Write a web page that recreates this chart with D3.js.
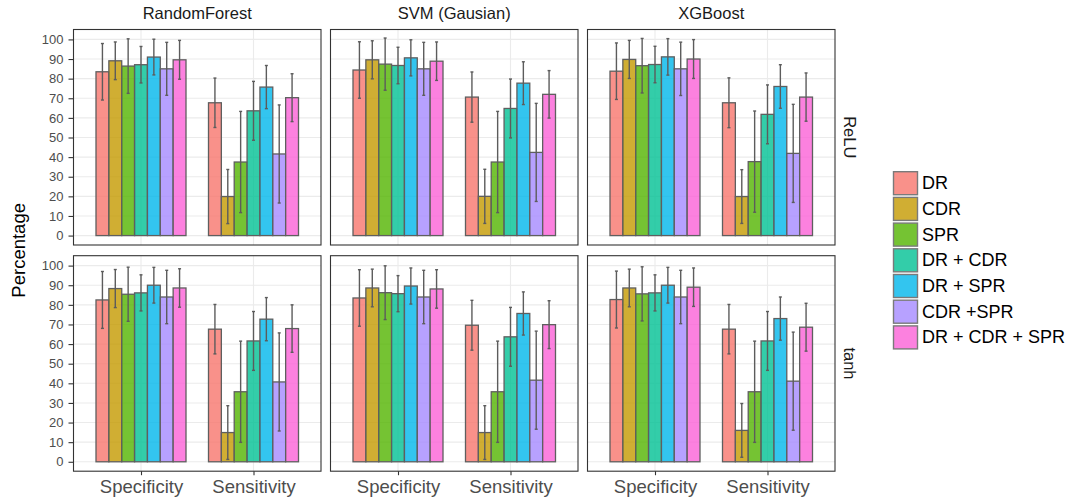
<!DOCTYPE html>
<html>
<head>
<meta charset="utf-8">
<script src="https://cdn.jsdelivr.net/npm/d3@7"></script>
<style>
  html, body { margin: 0; padding: 0; background: #fff; }
  svg { display: block; font-family: "Liberation Sans", Arial, Helvetica, sans-serif; }
</style>
</head>
<body>
<svg id="chart" width="1070" height="504"></svg>
<script>
// Facets and categories
const classifiers = ["RandomForest", "SVM (Gausian)", "XGBoost"];
const activations = ["ReLU", "tanh"];
const metrics = ["Specificity", "Sensitivity"];
const featureSets = ["DR", "CDR", "SPR", "DR + CDR", "DR + SPR", "CDR +SPR", "DR + CDR + SPR"];
const featureColors = ["#F8766D", "#C49A00", "#53B400", "#00C094", "#00B6EB", "#A58AFF", "#FB61D7"];
const yTicks = [0, 10, 20, 30, 40, 50, 60, 70, 80, 90, 100];

// Mean percentage and error half-width, one array per classifier / activation / metric
const rfReluSpec = [83.5, 89.1, 86.4, 87.1, 91.0, 85.0, 89.6];
const rfReluSpecErr = [14.4, 9.6, 13.9, 9.3, 9.1, 13.5, 9.9];
const rfReluSens = [67.7, 19.9, 37.5, 63.6, 75.7, 41.6, 70.3];
const rfReluSensErr = [12.6, 13.8, 25.8, 15.0, 11.0, 25.0, 12.2];

const svmReluSpec = [84.4, 89.6, 87.4, 86.7, 90.6, 85.0, 88.9];
const svmReluSpecErr = [14.4, 9.7, 13.3, 9.3, 9.2, 13.5, 9.8];
const svmReluSens = [70.6, 20.0, 37.5, 64.8, 77.7, 42.4, 72.0];
const svmReluSensErr = [12.8, 13.8, 25.8, 15.0, 10.9, 25.0, 12.1];

const xgbReluSpec = [83.8, 89.8, 86.6, 87.2, 91.1, 85.0, 90.0];
const xgbReluSpecErr = [14.4, 9.7, 13.9, 9.3, 9.3, 13.6, 9.9];
const xgbReluSens = [67.7, 19.9, 37.7, 61.8, 76.0, 41.9, 70.6];
const xgbReluSensErr = [12.7, 13.7, 25.8, 15.0, 11.1, 25.0, 12.3];

const rfTanhSpec = [82.5, 88.3, 85.4, 86.1, 90.0, 84.0, 88.6];
const rfTanhSpecErr = [14.5, 9.7, 13.8, 9.2, 9.1, 13.6, 9.8];
const rfTanhSens = [67.6, 14.9, 35.7, 61.6, 72.7, 40.7, 67.9];
const rfTanhSensErr = [12.6, 13.7, 25.8, 15.0, 11.0, 25.0, 12.1];

const svmTanhSpec = [83.5, 88.6, 86.2, 85.7, 89.6, 84.0, 88.1];
const svmTanhSpecErr = [14.4, 9.6, 13.7, 9.2, 9.2, 13.6, 9.8];
const svmTanhSens = [69.6, 14.9, 35.7, 63.7, 75.6, 41.6, 69.9];
const svmTanhSensErr = [12.7, 13.7, 25.8, 15.0, 11.0, 25.0, 12.2];

const xgbTanhSpec = [82.7, 88.6, 85.6, 86.1, 90.0, 84.0, 89.0];
const xgbTanhSpecErr = [14.5, 9.6, 13.8, 9.2, 9.1, 13.6, 9.8];
const xgbTanhSens = [67.6, 16.0, 35.7, 61.6, 73.0, 41.1, 68.6];
const xgbTanhSensErr = [12.6, 13.7, 25.8, 15.0, 11.0, 25.0, 12.2];

// Grid of panels: rows = activations, columns = classifiers
const panelData = [
  [ [[rfReluSpec, rfReluSpecErr], [rfReluSens, rfReluSensErr]],
    [[svmReluSpec, svmReluSpecErr], [svmReluSens, svmReluSensErr]],
    [[xgbReluSpec, xgbReluSpecErr], [xgbReluSens, xgbReluSensErr]] ],
  [ [[rfTanhSpec, rfTanhSpecErr], [rfTanhSens, rfTanhSensErr]],
    [[svmTanhSpec, svmTanhSpecErr], [svmTanhSens, svmTanhSensErr]],
    [[xgbTanhSpec, xgbTanhSpecErr], [xgbTanhSens, xgbTanhSensErr]] ]
];

// Layout
const svg = d3.select("#chart");
const panelLeft0 = 73.5, panelPitchX = 257, panelW = 247.5;
const panelTops = [29.5, 255.7], panelH = 215.5;
const yDomain = [-4.8, 105.05];
const outline = "#5f5f5f";
const errColor = "#5c5c5c";

const color = d3.scaleOrdinal().domain(featureSets).range(featureColors);

activations.forEach((act, r) => {
  const top = panelTops[r];
  const y = d3.scaleLinear().domain(yDomain).range([top + panelH, top]);

  classifiers.forEach((clf, c) => {
    const left = panelLeft0 + c * panelPitchX;
    const x = d3.scalePoint().domain(metrics).range([left, left + panelW]).padding(0.6);
    const step = x.step();
    const inner = d3.scaleBand().domain(featureSets).range([-0.4 * step, 0.4 * step]).padding(0);

    const g = svg.append("g");

    // background and grid
    g.append("rect").attr("x", left).attr("y", top)
      .attr("width", panelW).attr("height", panelH).attr("fill", "#fff");
    g.selectAll(".hgrid").data(yTicks).join("line")
      .attr("x1", left).attr("x2", left + panelW)
      .attr("y1", d => y(d)).attr("y2", d => y(d))
      .attr("stroke", "#ebebeb").attr("stroke-width", 1.1);
    g.selectAll(".vgrid").data(metrics).join("line")
      .attr("x1", d => x(d)).attr("x2", d => x(d))
      .attr("y1", top).attr("y2", top + panelH)
      .attr("stroke", "#ebebeb").attr("stroke-width", 1.1);

    // bars and error bars
    metrics.forEach((m, mi) => {
      const [means, errs] = panelData[r][c][mi];
      const rows = featureSets.map((f, i) => ({ f, v: means[i], e: errs[i] }));
      const cx = x(m);

      g.selectAll(null).data(rows).join("rect")
        .attr("x", d => cx + inner(d.f))
        .attr("width", inner.bandwidth())
        .attr("y", d => y(d.v))
        .attr("height", d => y(0) - y(d.v))
        .attr("fill", d => color(d.f)).attr("fill-opacity", 0.8)
        .attr("stroke", outline).attr("stroke-width", 1.3);

      const eb = g.selectAll(null).data(rows).join("g")
        .attr("transform", d => `translate(${cx + inner(d.f) + inner.bandwidth() / 2},0)`);
      eb.append("line")
        .attr("y1", d => y(d.v - d.e)).attr("y2", d => y(d.v + d.e))
        .attr("stroke", errColor).attr("stroke-width", 1.4);
      eb.append("line")
        .attr("x1", -1.5).attr("x2", 1.5)
        .attr("y1", d => y(d.v + d.e)).attr("y2", d => y(d.v + d.e))
        .attr("stroke", errColor).attr("stroke-width", 1.4);
      eb.append("line")
        .attr("x1", -1.5).attr("x2", 1.5)
        .attr("y1", d => y(d.v - d.e)).attr("y2", d => y(d.v - d.e))
        .attr("stroke", errColor).attr("stroke-width", 1.4);
    });

    // panel border
    g.append("rect").attr("x", left).attr("y", top)
      .attr("width", panelW).attr("height", panelH)
      .attr("fill", "none").attr("stroke", "#333333").attr("stroke-width", 1.1);

    // y axis on first column
    if (c === 0) {
      const ya = svg.append("g").attr("transform", `translate(${left},0)`)
        .call(d3.axisLeft(y).tickValues(yTicks).tickSize(5).tickPadding(5));
      ya.select(".domain").remove();
      ya.selectAll(".tick line").attr("stroke", "#333333").attr("stroke-width", 1.1);
      ya.selectAll(".tick text").attr("fill", "#4d4d4d")
        .style("font-size", "13px").style("font-family", "Liberation Sans, Arial, sans-serif");
    }

    // x axis on bottom row
    if (r === activations.length - 1) {
      const xa = svg.append("g").attr("transform", `translate(0,${top + panelH})`)
        .call(d3.axisBottom(x).tickSize(4).tickPadding(4.5));
      xa.select(".domain").remove();
      xa.selectAll(".tick line").attr("stroke", "#333333").attr("stroke-width", 1.1);
      xa.selectAll(".tick text").attr("fill", "#4d4d4d")
        .style("font-size", "18.5px").style("font-family", "Liberation Sans, Arial, sans-serif");
    }

    // column strip labels
    if (r === 0) {
      svg.append("text")
        .attr("x", left + panelW / 2).attr("y", 19)
        .attr("text-anchor", "middle")
        .attr("fill", "#1a1a1a").style("font-size", "16.5px")
        .text(clf);
    }
  });

  // row strip labels
  const rx = panelLeft0 + 2 * panelPitchX + panelW + 15;
  const ry = top + panelH / 2;
  svg.append("text")
    .attr("transform", `translate(${rx},${ry}) rotate(90)`)
    .attr("text-anchor", "middle").attr("dominant-baseline", "central")
    .attr("fill", "#1a1a1a").style("font-size", "16.5px")
    .text(act);
});

// y-axis title
svg.append("text")
  .attr("transform", `translate(18.5,${(panelTops[0] + panelTops[1] + panelH) / 2}) rotate(-90)`)
  .attr("text-anchor", "middle").attr("dominant-baseline", "central")
  .attr("fill", "#000").style("font-size", "18.5px")
  .text("Percentage");

// legend
const legendX = 893.5, legendY = 171.7, keyW = 24, keyH = 23, keyPitch = 25.7;
const lg = svg.append("g");
const items = lg.selectAll(null).data(featureSets).join("g")
  .attr("transform", (d, i) => `translate(${legendX},${legendY + i * keyPitch})`);
items.append("rect")
  .attr("width", keyW).attr("height", keyH)
  .attr("fill", d => color(d)).attr("fill-opacity", 0.8)
  .attr("stroke", "#7a7a7a").attr("stroke-width", 1.4);
items.append("text")
  .attr("x", keyW + 4.5).attr("y", keyH / 2)
  .attr("dominant-baseline", "central")
  .attr("fill", "#000").style("font-size", "18px")
  .text(d => d);
</script>
</body>
</html>
